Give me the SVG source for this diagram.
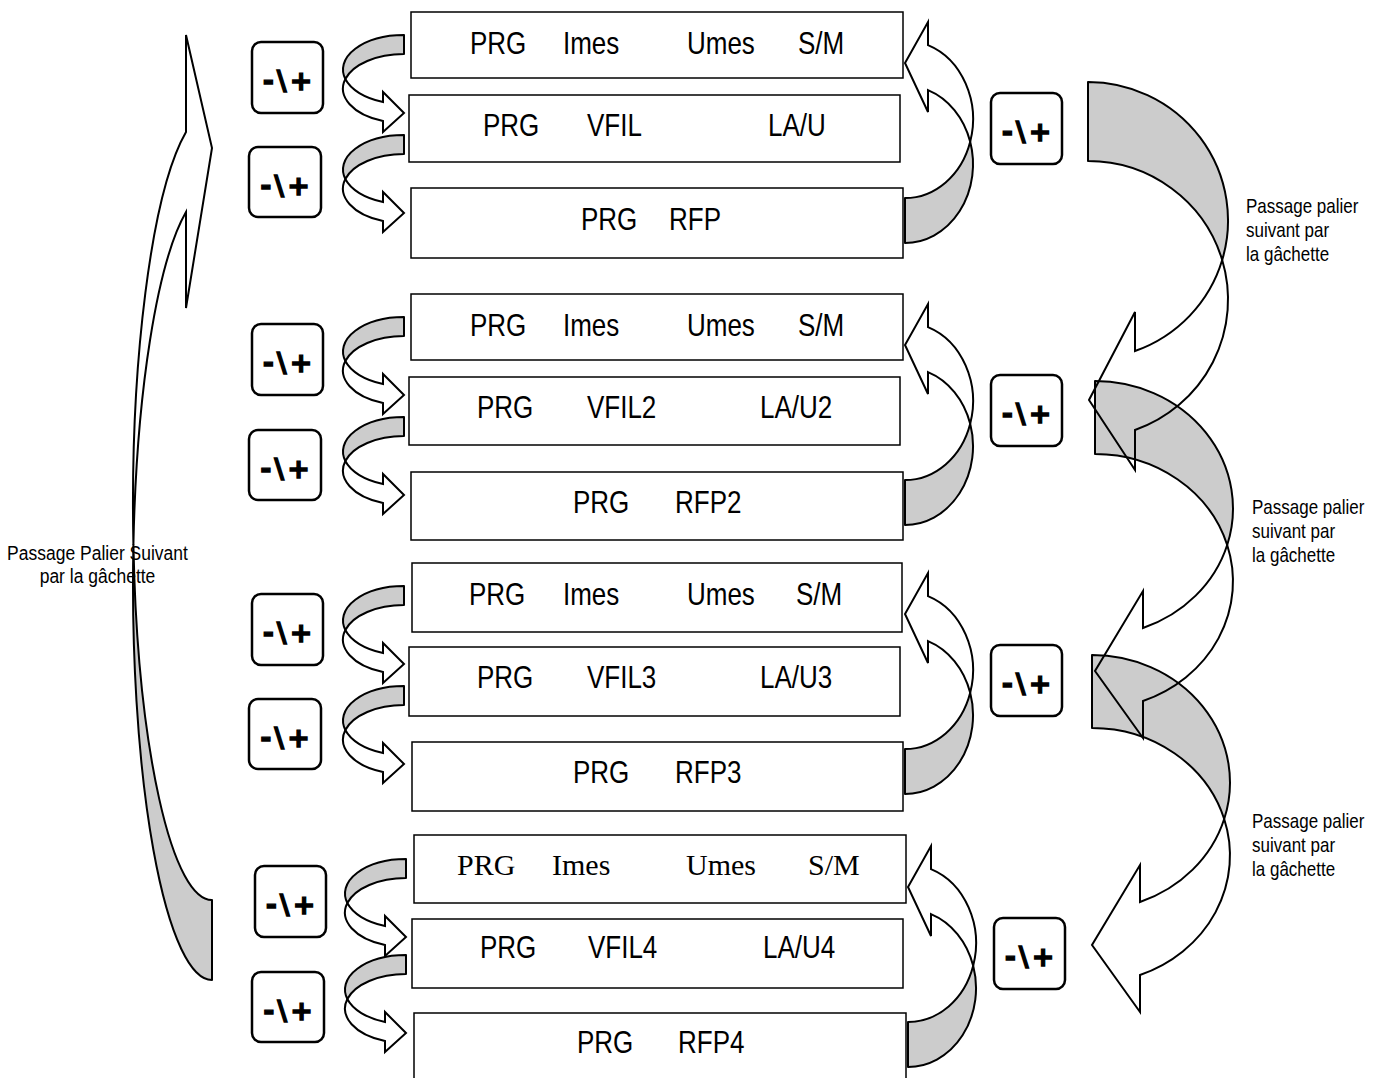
<svg xmlns="http://www.w3.org/2000/svg" xmlns:xlink="http://www.w3.org/1999/xlink" width="1378" height="1078" viewBox="0 0 1378 1078">
<style>
.box{fill:#fff;stroke:#000;stroke-width:1.5}
.t{font-family:"Liberation Sans",Arial,sans-serif;font-size:26px;fill:#000}
.ts{font-family:"Liberation Serif","Times New Roman",serif;font-size:30px;fill:#000}
.lbl{font-family:"Liberation Sans",Arial,sans-serif;font-size:17px;fill:#000}
.btn rect{fill:#fff;stroke:#000;stroke-width:2.5}
.btn text{font-family:"DejaVu Sans",sans-serif;font-weight:bold;font-size:27px;text-anchor:middle;letter-spacing:3px;fill:#000;stroke:#000;stroke-width:1.3}
.back{fill:#cccccc;stroke:#000;stroke-width:2;stroke-linejoin:round}
.front{fill:none;stroke:#000;stroke-width:2;stroke-linejoin:miter}
</style>
<defs>
<path id="la-b" class="back" d="M404,135 A61,34.55 0 0 0 345.35,179.05 A61,34.55 0 0 1 404,154 Z"/>
<path id="la-f" class="front" d="M345.35,179.05 A61,34.55 0 0 0 383,202 L383,192 L404,213 L383,232 L383,221 A61,34.55 0 0 1 345.35,179.05 Z"/>
<path id="ra-b" class="back" d="M905,198 A68,78.8 0 0 0 970.2,141.7 A68,78.8 0 0 1 905,243 Z"/>
<path id="ra-f" class="front" d="M970.2,141.7 A68,78.8 0 0 0 928,45.05 L928,22 L905,63 L928,112 L928,90.05 A68,78.8 0 0 1 970.2,141.7 Z"/>
<path id="ba-b" class="back" d="M1092,655 A138,127.5 0 0 1 1224.2,819 A138,127.5 0 0 0 1092,728 Z"/>
<path id="ba-f" class="front" d="M1224.2,819 A138,127.5 0 0 1 1140,902 L1140,865 L1092,945 L1140,1012 L1140,975 A138,127.5 0 0 0 1224.2,819 Z"/>
</defs>

<g id="boxes">
<g id="g1-b1"><rect class="box" x="411" y="12" width="492" height="66"/>
<text class="t" transform="matrix(1 0 0 1.19 0 54)"><tspan x="470" y="0">PRG</tspan><tspan x="563" y="0">Imes</tspan><tspan x="687" y="0">Umes</tspan><tspan x="798" y="0">S/M</tspan></text></g>
<g id="g1-b2"><rect class="box" x="409" y="95" width="491" height="67"/>
<text class="t" transform="matrix(1 0 0 1.19 0 136)"><tspan x="483" y="0">PRG</tspan><tspan x="587" y="0">VFIL</tspan><tspan x="768" y="0">LA/U</tspan></text></g>
<g id="g1-b3"><rect class="box" x="411" y="188" width="492" height="70"/>
<text class="t" transform="matrix(1 0 0 1.19 0 230)"><tspan x="581" y="0">PRG</tspan><tspan x="669" y="0">RFP</tspan></text></g>

<g id="g2-b1"><rect class="box" x="411" y="294" width="492" height="66"/>
<text class="t" transform="matrix(1 0 0 1.19 0 336)"><tspan x="470" y="0">PRG</tspan><tspan x="563" y="0">Imes</tspan><tspan x="687" y="0">Umes</tspan><tspan x="798" y="0">S/M</tspan></text></g>
<g id="g2-b2"><rect class="box" x="409" y="377" width="491" height="68"/>
<text class="t" transform="matrix(1 0 0 1.19 0 418)"><tspan x="477" y="0">PRG</tspan><tspan x="587" y="0">VFIL2</tspan><tspan x="760" y="0">LA/U2</tspan></text></g>
<g id="g2-b3"><rect class="box" x="411" y="472" width="492" height="68"/>
<text class="t" transform="matrix(1 0 0 1.19 0 513)"><tspan x="573" y="0">PRG</tspan><tspan x="675" y="0">RFP2</tspan></text></g>

<g id="g3-b1"><rect class="box" x="412" y="563" width="490" height="69"/>
<text class="t" transform="matrix(1 0 0 1.19 0 605)"><tspan x="469" y="0">PRG</tspan><tspan x="563" y="0">Imes</tspan><tspan x="687" y="0">Umes</tspan><tspan x="796" y="0">S/M</tspan></text></g>
<g id="g3-b2"><rect class="box" x="409" y="647" width="491" height="69"/>
<text class="t" transform="matrix(1 0 0 1.19 0 688)"><tspan x="477" y="0">PRG</tspan><tspan x="587" y="0">VFIL3</tspan><tspan x="760" y="0">LA/U3</tspan></text></g>
<g id="g3-b3"><rect class="box" x="412" y="742" width="491" height="69"/>
<text class="t" transform="matrix(1 0 0 1.19 0 783)"><tspan x="573" y="0">PRG</tspan><tspan x="675" y="0">RFP3</tspan></text></g>

<g id="g4-b1"><rect class="box" x="414" y="835" width="492" height="68"/>
<text class="ts" y="875"><tspan x="457">PRG</tspan><tspan x="552">Imes</tspan><tspan x="686">Umes</tspan><tspan x="808">S/M</tspan></text></g>
<g id="g4-b2"><rect class="box" x="412" y="919" width="491" height="69"/>
<text class="t" transform="matrix(1 0 0 1.19 0 958)"><tspan x="480" y="0">PRG</tspan><tspan x="588" y="0">VFIL4</tspan><tspan x="763" y="0">LA/U4</tspan></text></g>
<g id="g4-b3"><rect class="box" x="414" y="1013" width="492" height="80"/>
<text class="t" transform="matrix(1 0 0 1.19 0 1053)"><tspan x="577" y="0">PRG</tspan><tspan x="678" y="0">RFP4</tspan></text></g>
</g>

<g id="buttons">
<g id="btn-l1" class="btn"><rect x="252" y="42" width="71" height="71" rx="9"/><text x="289" y="90">-\+</text></g>
<g id="btn-l2" class="btn"><rect x="249" y="147" width="72" height="70" rx="9"/><text x="286.5" y="195">-\+</text></g>
<g id="btn-l3" class="btn"><rect x="252" y="324" width="71" height="71" rx="9"/><text x="289" y="372">-\+</text></g>
<g id="btn-l4" class="btn"><rect x="249" y="430" width="72" height="70" rx="9"/><text x="286.5" y="478">-\+</text></g>
<g id="btn-l5" class="btn"><rect x="252" y="594" width="71" height="71" rx="9"/><text x="289" y="642">-\+</text></g>
<g id="btn-l6" class="btn"><rect x="249" y="699" width="72" height="70" rx="9"/><text x="286.5" y="747">-\+</text></g>
<g id="btn-l7" class="btn"><rect x="255" y="866" width="71" height="71" rx="9"/><text x="292" y="914">-\+</text></g>
<g id="btn-l8" class="btn"><rect x="252" y="972" width="72" height="70" rx="9"/><text x="289.5" y="1020">-\+</text></g>
<g id="btn-r1" class="btn"><rect x="991" y="93" width="71" height="71" rx="9"/><text x="1028" y="141">-\+</text></g>
<g id="btn-r2" class="btn"><rect x="991" y="375" width="71" height="71" rx="9"/><text x="1028" y="423">-\+</text></g>
<g id="btn-r3" class="btn"><rect x="991" y="645" width="71" height="71" rx="9"/><text x="1028" y="693">-\+</text></g>
<g id="btn-r4" class="btn"><rect x="994" y="918" width="71" height="71" rx="9"/><text x="1031" y="966">-\+</text></g>
</g>

<g id="connectors">
<use xlink:href="#la-b" href="#la-b" transform="translate(0,-100)"/>
<use xlink:href="#la-b" href="#la-b"/>
<use xlink:href="#la-b" href="#la-b" transform="translate(0,182)"/>
<use xlink:href="#la-b" href="#la-b" transform="translate(0,282)"/>
<use xlink:href="#la-b" href="#la-b" transform="translate(0,451)"/>
<use xlink:href="#la-b" href="#la-b" transform="translate(0,551)"/>
<use xlink:href="#la-b" href="#la-b" transform="translate(2,724)"/>
<use xlink:href="#la-b" href="#la-b" transform="translate(2,820)"/>
<use xlink:href="#la-f" href="#la-f" transform="translate(0,-100)"/>
<use xlink:href="#la-f" href="#la-f"/>
<use xlink:href="#la-f" href="#la-f" transform="translate(0,182)"/>
<use xlink:href="#la-f" href="#la-f" transform="translate(0,282)"/>
<use xlink:href="#la-f" href="#la-f" transform="translate(0,451)"/>
<use xlink:href="#la-f" href="#la-f" transform="translate(0,551)"/>
<use xlink:href="#la-f" href="#la-f" transform="translate(2,724)"/>
<use xlink:href="#la-f" href="#la-f" transform="translate(2,820)"/>

<use xlink:href="#ra-b" href="#ra-b"/>
<use xlink:href="#ra-b" href="#ra-b" transform="translate(0,282)"/>
<use xlink:href="#ra-b" href="#ra-b" transform="translate(0,551)"/>
<use xlink:href="#ra-b" href="#ra-b" transform="translate(3,824)"/>
<use xlink:href="#ra-f" href="#ra-f"/>
<use xlink:href="#ra-f" href="#ra-f" transform="translate(0,282)"/>
<use xlink:href="#ra-f" href="#ra-f" transform="translate(0,551)"/>
<use xlink:href="#ra-f" href="#ra-f" transform="translate(3,824)"/>

<use xlink:href="#ba-b" href="#ba-b"/>
<use xlink:href="#ba-b" href="#ba-b" transform="translate(3,-274)"/>
<path class="back" d="M1088,82 A140,138.5 0 0 1 1222.2,260 A140,138.5 0 0 0 1088,161 Z"/>
<use xlink:href="#ba-f" href="#ba-f"/>
<use xlink:href="#ba-f" href="#ba-f" transform="translate(3,-274)"/>
<path class="front" d="M1222.2,260 A140,138.5 0 0 1 1135,351 L1135,312 L1089,400 L1135,470 L1135,430 A140,138.5 0 0 0 1222.2,260 Z"/>

<path class="back" d="M212,900 A79,395 0 0 1 133.4,545 A79,395 0 0 0 212,980 Z"/>
<path class="front" d="M133.4,545 A79,395 0 0 1 186,132.1 L186,35 L212,148 L186,308 L186,212.1 A79,395 0 0 0 133.4,545 Z"/>
</g>

<g id="labels">
<text class="lbl" transform="matrix(1 0 0 1.2 0 213)"><tspan x="1246" y="0">Passage palier</tspan><tspan x="1246" y="20">suivant par</tspan><tspan x="1246" y="40">la gâchette</tspan></text>
<text class="lbl" transform="matrix(1 0 0 1.2 0 514)"><tspan x="1252" y="0">Passage palier</tspan><tspan x="1252" y="20">suivant par</tspan><tspan x="1252" y="40">la gâchette</tspan></text>
<text class="lbl" transform="matrix(1 0 0 1.2 0 828)"><tspan x="1252" y="0">Passage palier</tspan><tspan x="1252" y="20">suivant par</tspan><tspan x="1252" y="40">la gâchette</tspan></text>
<text class="lbl" style="font-size:17.5px;text-anchor:middle" transform="matrix(1 0 0 1.2 0 560)"><tspan x="97.5" y="0">Passage Palier Suivant</tspan><tspan x="97.5" y="19.2">par la gâchette</tspan></text>
</g>
</svg>
